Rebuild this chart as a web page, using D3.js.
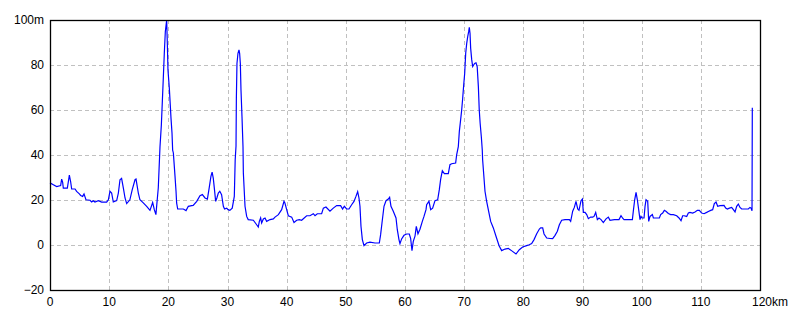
<!DOCTYPE html>
<html>
<head>
<meta charset="utf-8">
<script src="https://cdn.jsdelivr.net/npm/d3@7"></script>
<style>
  body { margin: 0; background: #fff; }
  text { font-family: "Liberation Sans", Arial, sans-serif; font-size: 12px; fill: #000; }
</style>
</head>
<body>
<div id="chart"></div>
<script>
// distance along the route (km) and elevation (m)
var dist = [0, 0.56, 1.13, 1.8, 1.97, 2.14, 2.25, 2.93, 3.15, 3.27, 3.49, 3.66, 4.23, 4.5, 4.96, 5.18, 5.52, 5.75,
  6.08, 6.76, 7.04, 7.32, 7.6, 8.17, 8.73, 9.58, 9.86, 10.14, 10.42, 10.7, 11.27, 11.55, 11.83, 12.1, 12.4, 12.68,
  12.96, 13.5, 13.9, 14.37, 14.54, 14.93, 15.2, 15.77, 16.34, 16.9, 17.35, 17.63, 17.9, 18.3, 18.59, 18.82, 18.99,
  19.16, 19.32, 19.49, 19.72, 19.83, 19.94, 20.17, 20.33, 20.45, 20.62, 20.73, 20.85, 21.13, 21.3, 21.4, 21.58,
  22.54, 22.99, 23.38, 23.94, 24.2, 24.8, 25.35, 25.75, 26.2, 26.6, 26.9, 27.2, 27.4, 27.6, 27.8, 28.0, 28.2, 28.45,
  28.7, 29.0, 29.3, 29.5, 29.86, 30.1, 30.4, 30.8, 31.15, 31.3, 31.44, 31.5, 31.6, 31.77, 31.94, 32.05, 32.17, 32.28,
  32.45, 32.62, 32.68, 32.96, 33.24, 33.5, 34.37, 34.65, 34.93, 35.2, 35.38, 35.6, 35.77, 36.06, 36.34, 36.62, 37.2,
  37.75, 38.03, 38.6, 39.15, 39.55, 39.7, 40.0, 40.28, 40.85, 41.24, 41.69, 42.14, 42.53, 43.38, 43.94, 44.5, 44.79,
  45.18, 45.91, 46.2, 46.64, 47.32, 47.88, 48.45, 49.12, 49.46, 49.74, 50.14, 50.53, 50.98, 51.38, 51.71, 52.0,
  52.22, 52.39, 52.56, 52.79, 53.07, 53.52, 54.08, 54.93, 55.66, 55.88, 56.11, 56.45, 56.79, 57.18, 57.4, 57.63,
  58.02, 58.48, 58.7, 58.98, 59.15, 59.43, 59.83, 60.28, 60.73, 60.95, 61.18, 61.4, 61.69, 61.91, 62.19, 62.53,
  62.93, 63.21, 63.55, 63.66, 64.05, 64.34, 64.67, 65.07, 65.52, 65.8, 66.03, 66.31, 66.65, 67.32, 67.6, 67.88,
  68.56, 68.73, 69.01, 69.18, 69.4, 69.58, 69.75, 69.92, 70.09, 70.26, 70.43, 70.6, 70.76, 70.87, 70.99, 71.1,
  71.27, 71.44, 71.6, 71.77, 72.0, 72.2, 72.4, 72.55, 72.7, 72.9, 73.06, 73.12, 73.52, 73.8, 74.08, 74.48, 74.93,
  75.38, 75.9, 76.34, 76.9, 77.46, 78.0, 78.76, 79.32, 79.88, 80.56, 81.0, 81.41, 81.81, 82.26, 82.71, 82.93, 83.27,
  83.5, 83.95, 84.51, 84.96, 85.36, 85.75, 86.09, 86.48, 87.05, 87.78, 88.0, 88.34, 88.62, 88.9, 89.19, 89.41,
  89.75, 89.98, 90.14, 90.43, 90.71, 90.99, 91.38, 91.72, 91.95, 92.23, 92.51, 92.79, 93.13, 93.52, 93.98, 94.37,
  94.65, 95.38, 96.17, 96.51, 96.79, 97.02, 98.43, 98.6, 98.82, 99.05, 99.27, 99.5, 99.72, 99.89, 100.06, 100.4,
  100.57, 100.74, 101.02, 101.19, 101.41, 101.81, 101.98, 102.99, 103.21, 103.55, 103.83, 104.1, 104.51, 104.9,
  105.36, 105.92, 106.31, 106.65, 106.93, 107.16, 107.61, 107.89, 108.17, 108.62, 109.02, 109.41, 109.75, 110.14,
  110.54, 110.99, 111.27, 111.67, 112.0, 112.28, 112.57, 112.85, 113.24, 113.92, 114.2, 114.48, 114.82, 115.21,
  115.5, 115.78, 116.06, 116.34, 116.62, 116.9, 118.03, 118.31, 118.48, 118.65, 118.7];

var elev = [27.6, 26.8, 26, 26.4, 29.3, 27.8, 25.3, 25.3, 29, 31.1, 28.1, 24.9, 24.9, 23.8, 22.7, 22, 21.6, 22.7,
  20.1, 19.9, 19.1, 19.7, 19.1, 19.7, 19.1, 19.1, 20.1, 23.9, 23.1, 19.1, 19.7, 23.1, 29, 29.6, 25.3, 20.9,
  18.4, 20.1, 24.6, 29, 29.3, 23.1, 20.1, 18.7, 17.2, 15.4, 18.9, 15.7, 13.5, 25.3, 43.7, 53.3, 64,
  74.8, 85.2, 94.8, 100, 89.6, 77.8, 69.6, 62.2, 56.4, 49.8, 42.2, 40.9, 30.5, 23.9, 18.7, 16,
  16, 15.3, 17.2, 17.5, 17.6, 19.4, 21.9, 22.4, 20.9, 20.4, 25.3, 30.5, 32.4, 29.6, 24.6, 19.4, 20.9, 23.1,
  23.9, 22.4, 17.2, 16, 16.4, 15.7, 15.4, 16.4, 21.6, 37.9, 44, 65.6, 80.7, 85.2, 86.7, 85.2, 80.7, 68.9,
  57, 43.7, 32, 17.2, 12.7, 11.3, 11, 10, 9, 8, 10.5, 12, 9.8, 11.6, 12, 10.5, 11.3,
  11.6, 12.4, 13.5, 15.7, 19.4, 18.7, 15.7, 13, 12.4, 10, 11, 11.3, 11, 13, 13, 13.9, 13,
  13.9, 13.9, 16.4, 16.9, 15, 16.4, 17.5, 17.5, 16, 17.2, 16, 16, 17.9, 19.4, 21.6, 23.7,
  20.9, 17.2, 8.3, 2.4, -0.3, 0.9, 1.3, 0.9, 0.9, 4.6, 9.8, 17.2, 19.7, 20.4, 21.2, 17.2,
  15, 12, 6.8, 2.4, 0.6, 2.7, 4.3, 4.9, 4.9, 3, -2.5, 1.6, 3.9, 8.3, 5, 7,
  10.5, 12.7, 15.7, 17.9, 19.4, 15.7, 16.4, 19.7, 20.1, 24.6, 29.3, 33, 31.7, 31.7, 35.7, 36.1,
  36.4, 40.1, 43.7, 50.4, 55.6, 60, 65.2, 71.1, 76.3, 85.2, 89.6, 92.6, 94.8, 96.7, 94.1, 87.4,
  82.5, 79.3, 80, 80.7, 81, 79.3, 70.4, 60, 54.1, 48.1, 42.2, 37.9, 23.9, 19.4, 15.7, 10.5, 7.6,
  3.9, -0.3, -2.5, -1.8, -1.5, -2.5, -4, -2.1, -0.9, -0.3, 0.1, 0.6, 2.4, 5, 7.1, 7.6, 7.6,
  4.9, 3.1, 2.9, 2.8, 4.3, 6.1, 9, 11, 11.3, 11.3, 10.5, 15, 16.7, 19.4, 16, 15.4,
  19.7, 20.4, 14.5, 14.5, 13.5, 11.7, 12.4, 12.4, 12.7, 14.5, 11.3, 12, 11.3, 10, 11.6, 12.4,
  11, 11.3, 11.3, 13, 11.9, 11.3, 11.3, 15.3, 20.1, 23.4, 20.1, 15.6, 11.3, 12.7, 12, 12,
  17.2, 20.1, 19.4, 10.5, 12.7, 13.5, 12, 12, 13.5, 14.2, 15.4, 15, 14, 13.5,
  13.5, 13, 12, 10.8, 13, 13, 12.7, 14.2, 14.5, 14.2, 14.7, 15.4, 15.4, 14.2,
  13.9, 14.5, 14.9, 15.4, 15.7, 18.4, 19.1, 17.2, 17.5, 17.6, 16.4, 16, 16.4, 16.7,
  15.7, 14.7, 17.2, 18.2, 16.7, 16, 16, 16.7, 16.4, 15.2, 61];

var xTicks = [0, 10, 20, 30, 40, 50, 60, 70, 80, 90, 100, 110, 120];
var yTicks = [-20, 0, 20, 40, 60, 80, 100];

var width = 800;
var height = 320;
var margin = {top: 20, right: 40, bottom: 30, left: 50};

const svg = d3.select("#chart")
  .append("svg")
  .attr("width", width)
  .attr("height", height);

const x = d3.scaleLinear()
  .domain([0, 120])
  .range([margin.left, width - margin.right]);

const y = d3.scaleLinear()
  .domain([-20, 100])
  .range([height - margin.bottom, margin.top]);

// dashed grid
svg.append("g")
  .selectAll("line")
  .data(xTicks.slice(1, -1))
  .join("line")
  .attr("x1", d => Math.round(x(d)) + 0.5)
  .attr("x2", d => Math.round(x(d)) + 0.5)
  .attr("y1", y(100))
  .attr("y2", y(-20))
  .attr("stroke", "#c0c0c0")
  .attr("stroke-dasharray", "4,3");

svg.append("g")
  .selectAll("line")
  .data(yTicks.slice(1, -1))
  .join("line")
  .attr("x1", x(0))
  .attr("x2", x(120))
  .attr("y1", d => Math.round(y(d)) + 0.5)
  .attr("y2", d => Math.round(y(d)) + 0.5)
  .attr("stroke", "#c0c0c0")
  .attr("stroke-dasharray", "4,3");

// profile line
const line = d3.line()
  .x((d, i) => x(dist[i]))
  .y(d => y(d));

svg.append("path")
  .datum(elev)
  .attr("d", line)
  .attr("fill", "none")
  .attr("stroke", "#0000ff")
  .attr("stroke-width", 1.2);

// frame
svg.append("rect")
  .attr("x", x(0) + 0.5)
  .attr("y", y(100) + 0.5)
  .attr("width", x(120) - x(0))
  .attr("height", y(-20) - y(100))
  .attr("fill", "none")
  .attr("stroke", "#000")
  .attr("stroke-width", 1.3);

// axis labels
svg.append("g")
  .selectAll("text")
  .data(xTicks)
  .join("text")
  .attr("x", d => d == 120 ? x(d) - 8 : x(d))
  .attr("y", height - 14)
  .attr("text-anchor", d => d == 120 ? "start" : "middle")
  .text(d => d == 120 ? d + "km" : d);

svg.append("g")
  .selectAll("text")
  .data(yTicks)
  .join("text")
  .attr("x", x(0) - 6)
  .attr("y", d => y(d) + 4)
  .attr("text-anchor", "end")
  .text(d => d == 100 ? d + "m" : (d < 0 ? "\u2212" + Math.abs(d) : d));
</script>
</body>
</html>
